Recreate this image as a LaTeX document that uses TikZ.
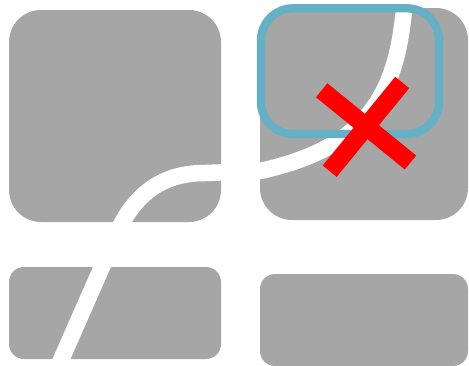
\documentclass[tikz,border=0pt]{standalone}
\definecolor{boxgray}{RGB}{166,166,166}
\definecolor{frameblue}{RGB}{102,176,198}
\begin{document}
\begin{tikzpicture}[x=1pt,y=-1pt,
  bigpanel/.style={fill=boxgray, rounded corners=32pt},
  smallpanel/.style={fill=boxgray, rounded corners=15pt},
  route/.style={draw=white, line width=16.5pt},
  focusframe/.style={draw=frameblue, line width=8.3pt, rounded corners=32pt},
  crossbar/.style={draw=red, line width=18pt}]
\useasboundingbox (0,0) rectangle (469,365);
\clip (0,0) rectangle (469,365);
% panels
\path[bigpanel] (9,10) rectangle (221,222);
\path[bigpanel] (260,8) rectangle (468,220);
\path[smallpanel] (9,267) rectangle (221,359);
\path[smallpanel] (260,274) rectangle (468,366);
% white route
\path[route] (50,385) -- (116,235) .. controls (137,187) and (170,173) .. (205,173)
  -- (260,171) .. controls (380,145) and (398,80) .. (405,0) -- (405.5,-12);
% blue frame
\path[focusframe] (261,8.3) rectangle (439,134);
% red cross
\path[crossbar] (321.7,90.3) -- (410.5,162.5);
\path[crossbar] (402.2,82.5) -- (329.7,171.2);
\end{tikzpicture}
\end{document}
